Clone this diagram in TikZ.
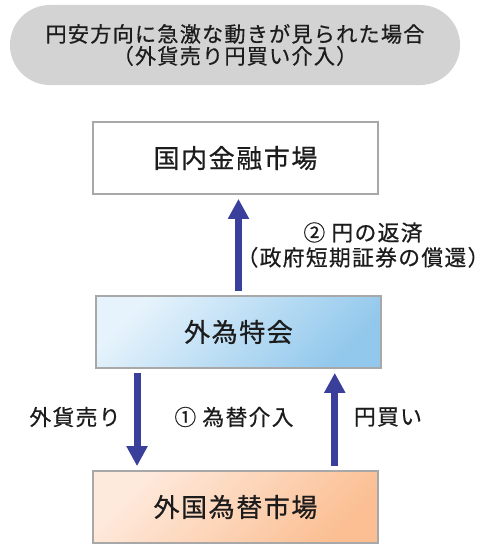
\documentclass[tikz,border=0pt]{standalone}
\usepackage{fontspec}
\usepackage{xcolor}
\usepackage{tikz}
\usetikzlibrary{arrows.meta}
\newfontfamily\jpfont[LetterSpace=6,FakeBold=0.6]{Noto Sans CJK JP}
\definecolor{arrowblue}{HTML}{3B3F9C}
\definecolor{boxgray}{HTML}{A8A8A8}
\definecolor{pillgray}{HTML}{D3D3D3}
\definecolor{textdark}{HTML}{1C1C1C}
\definecolor{bluelight}{HTML}{E6F3FC}
\definecolor{bluedark}{HTML}{92C8EC}
\definecolor{orangelight}{HTML}{FEEADD}
\definecolor{orangedark}{HTML}{FBBF93}

\begin{document}
\begin{tikzpicture}[x=0.025cm,y=-0.025cm]

			\tikzstyle{market} = [draw=boxgray,line width=1.2pt,minimum width=7.13cm,minimum height=1.8cm,text=textdark,font=\jpfont\fontsize{18.5}{22}\selectfont]
			\tikzstyle{flow} = [draw=arrowblue,line width=5pt,-{Triangle[width=0.5cm,length=0.5cm]},shorten <=0.1cm,shorten >=0.1cm]
			\tikzstyle{caption} = [align=center,text=textdark,font=\jpfont\fontsize{15.5}{17.7}\selectfont]

			\useasboundingbox (0,0) rectangle (496,548);

			\node[fill=pillgray,rounded corners=1cm,minimum width=11.25cm,minimum height=2cm,align=center,text=textdark,font=\jpfont\fontsize{15}{15.6}\selectfont] (case) at (235,45) {円安方向に急激な動きが見られた場合\\（外貨売り円買い介入）};

			\node[market] (domestic) at (235.5,158) {国内金融市場};
			\node[market,top color=bluelight,bottom color=bluedark,shading angle=45] (fund) at (238.5,332) {外為特会};
			\node[market,top color=orangelight,bottom color=orangedark,shading angle=45] (forex) at (235.5,507) {外国為替市場};

			%\draw (fund.north) -- (domestic.south);

			\draw[flow] (fund.north) -- (fund.north |- domestic.south);
			\node[caption] (repay) at (363,245) {② 円の返済\\（政府短期証券の償還）};

			\coordinate (sellfrom) at ([xshift=1.05cm]fund.south west);
			\coordinate (buyto) at ([xshift=-1.18cm]fund.south east);
			\draw[flow] (sellfrom) -- (sellfrom |- forex.north);
			\draw[flow] (buyto |- forex.north) -- (buyto);

			\node[caption] (sell) at (75,417) {外貨売り};
			\node[caption] (intervene) at (234,417) {① 為替介入};
			\node[caption] (buy) at (388,417) {円買い};
		\end{tikzpicture}
\end{document}
